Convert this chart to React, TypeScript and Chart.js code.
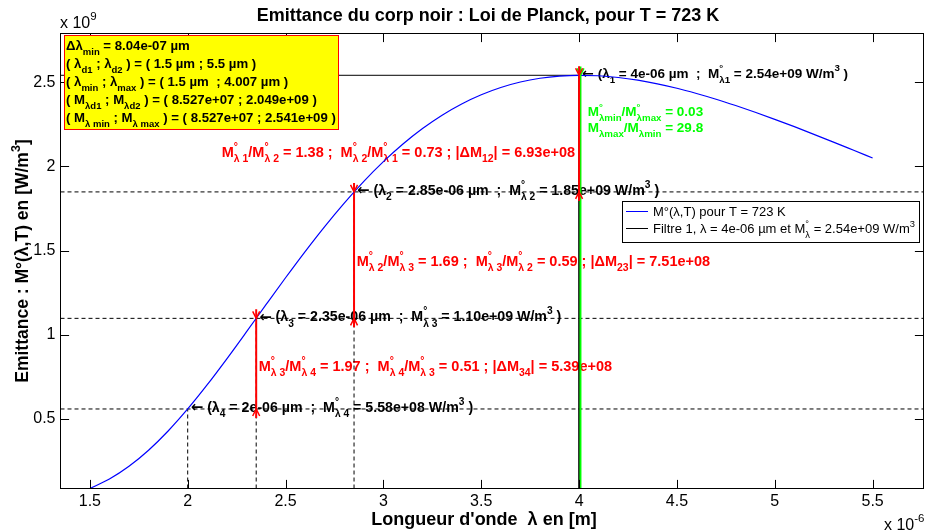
import React, { useEffect, useRef } from "react";
import { Chart, registerables } from "chart.js";

Chart.register(...registerables);

// ---------- data ----------
// wavelengths in µm (axis shows x 10^-6 m)
const wavelengths = [
  1.5, 1.6, 1.7, 1.8, 1.9, 2.0, 2.1, 2.2, 2.3, 2.4, 2.5, 2.6, 2.7, 2.8, 2.9, 3.0, 3.1, 3.2, 3.3, 3.4, 3.5,
  3.6, 3.7, 3.8, 3.9, 4.0, 4.1, 4.2, 4.3, 4.4, 4.5, 4.6, 4.7, 4.8, 4.9, 5.0, 5.1, 5.2, 5.3, 5.4, 5.5,
];
// spectral exitance in 1e9 W/m^3
const exitance = [
  0.0853, 0.1415, 0.2172, 0.3128, 0.4271, 0.558, 0.7022, 0.8562, 1.0159, 1.1778, 1.338, 1.4939, 1.6427,
  1.7823, 1.9113, 2.0284, 2.1332, 2.2252, 2.3046, 2.3713, 2.426, 2.4692, 2.5016, 2.524, 2.537, 2.5416,
  2.5387, 2.5286, 2.5124, 2.4908, 2.4645, 2.4333, 2.3993, 2.3617, 2.3219, 2.2798, 2.2361, 2.1907, 2.1444,
  2.0972, 2.0498,
];

const filterLambdas = [4.0, 2.85, 2.35, 2.0];
const filterExitance = [2.5416, 1.8483, 1.0967, 0.558];
const lambdaMax = 4.007;
const exitanceMax = 2.541;
const exitanceMin = 0.08527;

const xRange = [1.35, 5.76];
const yRange = [0.08527, 2.79];
const xTicks = [1.5, 2, 2.5, 3, 3.5, 4, 4.5, 5, 5.5];
const yTicks = [0.5, 1, 1.5, 2, 2.5];

// ---------- texts ----------
const titleText = "Emittance du corp noir : Loi de Planck, pour T = 723 K";
const xLabel = "Longueur d'onde  λ en [m]";
const yLabel = "Emittance : M°(λ,T) en [W/m^{3}]";
const xExponent = "x 10^{-6}";
const yExponent = "x 10^{9}";
const legendLabels = ["M°(λ,T) pour T = 723 K", "Filtre 1, λ = 4e-06 µm et M^{°}_{λ} = 2.54e+09 W/m^{3}"];
const infoLines = [
  "Δλ_{min} = 8.04e-07 µm",
  "( λ_{d1} ; λ_{d2} ) = ( 1.5 µm ; 5.5 µm )",
  "( λ_{min} ; λ_{max} ) = ( 1.5 µm  ; 4.007 µm )",
  "( M_{λd1} ; M_{λd2} ) = ( 8.527e+07 ; 2.049e+09 )",
  "( M_{λ min} ; M_{λ max} ) = ( 8.527e+07 ; 2.541e+09 )",
];
const filterLabels = [
  "← (λ_{1} = 4e-06 µm  ;  M^{°}_{λ1} = 2.54e+09 W/m^{3} )",
  "← (λ_{2} = 2.85e-06 µm  ;  M^{°}_{λ 2} = 1.85e+09 W/m^{3} )",
  "← (λ_{3} = 2.35e-06 µm  ;  M^{°}_{λ 3} = 1.10e+09 W/m^{3} )",
  "← (λ_{4} = 2e-06 µm  ;  M^{°}_{λ 4} = 5.58e+08 W/m^{3} )",
];
const ratioLabels = [
  "M^{°}_{λ 1}/M^{°}_{λ 2} = 1.38 ;  M^{°}_{λ 2}/M^{°}_{λ 1} = 0.73 ; |ΔM_{12}| = 6.93e+08",
  "M^{°}_{λ 2}/M^{°}_{λ 3} = 1.69 ;  M^{°}_{λ 3}/M^{°}_{λ 2} = 0.59 ; |ΔM_{23}| = 7.51e+08",
  "M^{°}_{λ 3}/M^{°}_{λ 4} = 1.97 ;  M^{°}_{λ 4}/M^{°}_{λ 3} = 0.51 ; |ΔM_{34}| = 5.39e+08",
];
const ratioAnchorX = [2.174, 2.864, 2.363];
const ratioAnchorY = [2.088, 1.44, 0.815];
const greenLabels = ["M^{°}_{λmin}/M^{°}_{λmax} = 0.03", "M_{λmax}/M_{λmin} = 29.8"];
const greenAnchorX = 4.044;
const greenAnchorY = [2.326, 2.231];

// ---------- rich text helpers ----------
const FAMILY = '"Liberation Sans", Arial, Helvetica, sans-serif';
const ARROW_FAMILY = '"DejaVu Sans", sans-serif';
const SUB = 0.72;
const GREEN = "#00ff00";
const RED = "#ff0000";
const FILTER_LABEL_SIZES = [13.5, 14.2, 14.2, 14.2];
type Seg = { t: string; k: number };
function fontStr(size: number, bold: boolean, family = FAMILY) {
  return `${bold ? "bold " : ""}${size}px ${family}`;
}
function parseRich(s: string): Seg[] {
  const out: Seg[] = [];
  let buf = "";
  let i = 0;
  const flush = () => {
    if (buf) {
      out.push({ t: buf, k: 0 });
      buf = "";
    }
  };
  while (i < s.length) {
    const c = s[i];
    if ((c === "_" || c === "^") && s[i + 1] === "{") {
      flush();
      const j = s.indexOf("}", i + 2);
      out.push({ t: s.slice(i + 2, j), k: c === "_" ? 1 : 2 });
      i = j + 1;
    } else if (c === "←") {
      flush();
      out.push({ t: c, k: 3 });
      i++;
    } else {
      buf += c;
      i++;
    }
  }
  flush();
  return out;
}
function segFont(k: number, size: number, bold: boolean) {
  if (k === 3) return fontStr(size * 1.05, bold, ARROW_FAMILY);
  return fontStr(k === 1 || k === 2 ? size * SUB : size, bold);
}
function layoutRich(ctx: CanvasRenderingContext2D, s: string, size: number, bold: boolean) {
  const segs = parseRich(s);
  const items: { t: string; k: number; x: number }[] = [];
  let w = 0;
  for (let i = 0; i < segs.length; i++) {
    const a = segs[i];
    const b = segs[i + 1];
    if ((a.k === 1 || a.k === 2) && b && (b.k === 1 || b.k === 2) && b.k !== a.k) {
      ctx.font = segFont(a.k, size, bold);
      const wa = ctx.measureText(a.t).width;
      const wb = ctx.measureText(b.t).width;
      items.push({ t: a.t, k: a.k, x: w });
      items.push({ t: b.t, k: b.k, x: w });
      w += Math.max(wa, wb);
      i++;
    } else {
      ctx.font = segFont(a.k, size, bold);
      items.push({ t: a.t, k: a.k, x: w });
      w += ctx.measureText(a.t).width;
    }
  }
  return { items, w };
}
function drawRich(
  ctx: CanvasRenderingContext2D,
  s: string,
  x: number,
  yc: number,
  size: number,
  bold: boolean,
  color: string,
  align: "left" | "center" | "right" = "left"
) {
  const { items, w } = layoutRich(ctx, s, size, bold);
  const x0 = align === "left" ? x : align === "center" ? x - w / 2 : x - w;
  const base = yc + 0.36 * size;
  ctx.save();
  ctx.fillStyle = color;
  ctx.textAlign = "left";
  ctx.textBaseline = "alphabetic";
  for (const it of items) {
    ctx.font = segFont(it.k, size, bold);
    const y = it.k === 1 ? base + 0.36 * size : it.k === 2 ? base - 0.5 * size : it.k === 3 ? base + 0.02 * size : base;
    ctx.fillText(it.t, x0 + it.x, y);
  }
  ctx.restore();
  return w;
}

function arrowHead(ctx: CanvasRenderingContext2D, px: number, py: number, dir: number, color: string) {
  // dir = 1 : pointing down (apex at py), dir = -1 : pointing up
  ctx.save();
  ctx.strokeStyle = color;
  ctx.lineWidth = 1.5;
  ctx.beginPath();
  ctx.moveTo(px - 3.5, py - dir * 7);
  ctx.lineTo(px, py);
  ctx.lineTo(px + 3.5, py - dir * 7);
  ctx.stroke();
  ctx.lineWidth = 2;
  ctx.beginPath();
  ctx.moveTo(px, py);
  ctx.lineTo(px, py - dir * 9);
  ctx.stroke();
  ctx.restore();
}

const overlay = {
  id: "overlay",
  beforeDatasetsDraw(chart: any) {
    const ctx: CanvasRenderingContext2D = chart.ctx;
    const xs = chart.scales.x;
    const ys = chart.scales.y;
    filterLabels.forEach((t, i) => {
      drawRich(
        ctx,
        t,
        xs.getPixelForValue(filterLambdas[i]) + 3,
        ys.getPixelForValue(filterExitance[i]) - 2,
        FILTER_LABEL_SIZES[i],
        true,
        "#000"
      );
    });
    ratioLabels.forEach((t, i) => {
      drawRich(ctx, t, xs.getPixelForValue(ratioAnchorX[i]), ys.getPixelForValue(ratioAnchorY[i]), 14.5, true, RED);
    });
    greenLabels.forEach((t, i) => {
      drawRich(ctx, t, xs.getPixelForValue(greenAnchorX), ys.getPixelForValue(greenAnchorY[i]), 13.5, true, GREEN);
    });
  },
  afterDatasetsDraw(chart: any) {
    const ctx: CanvasRenderingContext2D = chart.ctx;
    const xs = chart.scales.x;
    const ys = chart.scales.y;
    const a = chart.chartArea;
    ctx.save();
    ctx.beginPath();
    ctx.rect(a.left, a.top, a.right - a.left, a.bottom - a.top);
    ctx.clip();
    const gx = xs.getPixelForValue(lambdaMax);
    arrowHead(ctx, gx, ys.getPixelForValue(exitanceMax), 1, GREEN);
    arrowHead(ctx, gx, ys.getPixelForValue(exitanceMin), -1, GREEN);
    for (let i = 0; i < 3; i++) {
      const px = xs.getPixelForValue(filterLambdas[i]);
      arrowHead(ctx, px, ys.getPixelForValue(filterExitance[i]), 1, RED);
      arrowHead(ctx, px, ys.getPixelForValue(filterExitance[i + 1]), -1, RED);
    }
    ctx.restore();
    // box and inward ticks
    ctx.save();
    ctx.strokeStyle = "#000";
    ctx.lineWidth = 1;
    ctx.strokeRect(a.left, a.top, a.right - a.left, a.bottom - a.top);
    ctx.beginPath();
    const tl = 8.6;
    xTicks.forEach((v) => {
      const px = Math.round(xs.getPixelForValue(v)) + 0.5;
      ctx.moveTo(px, a.bottom);
      ctx.lineTo(px, a.bottom - tl);
      ctx.moveTo(px, a.top);
      ctx.lineTo(px, a.top + tl);
    });
    yTicks.forEach((v) => {
      const py = Math.round(ys.getPixelForValue(v)) + 0.5;
      ctx.moveTo(a.left, py);
      ctx.lineTo(a.left + tl, py);
      ctx.moveTo(a.right, py);
      ctx.lineTo(a.right - tl, py);
    });
    ctx.stroke();
    ctx.restore();
  },
  afterDraw(chart: any) {
    const ctx: CanvasRenderingContext2D = chart.ctx;
    const a = chart.chartArea;
    // info box
    ctx.save();
    ctx.fillStyle = "#ffff00";
    ctx.fillRect(64, 35, 275, 95);
    ctx.strokeStyle = RED;
    ctx.lineWidth = 1;
    ctx.strokeRect(64.5, 35.5, 274, 94);
    ctx.restore();
    infoLines.forEach((t, i) => drawRich(ctx, t, 66, 45 + i * 18.1, 13.2, true, "#000"));
    // legend
    ctx.save();
    ctx.fillStyle = "#fff";
    ctx.fillRect(622, 201, 298, 42);
    ctx.strokeStyle = "#000";
    ctx.lineWidth = 1;
    ctx.strokeRect(622.5, 201.5, 297, 41);
    const rowsY = [211.5, 228.5];
    chart.data.datasets.slice(0, 2).forEach((ds: any, i: number) => {
      ctx.strokeStyle = ds.borderColor;
      ctx.beginPath();
      ctx.moveTo(626, rowsY[i]);
      ctx.lineTo(648, rowsY[i]);
      ctx.stroke();
      drawRich(ctx, legendLabels[i], 653, rowsY[i], 13, false, "#000");
    });
    ctx.restore();
    // titles
    drawRich(ctx, titleText, 488, 15, 18, true, "#000", "center");
    drawRich(ctx, xLabel, 484, 519, 18, true, "#000", "center");
    drawRich(ctx, yExponent, 60, 22, 16, false, "#000");
    drawRich(ctx, xExponent, 884, 524, 16, false, "#000");
    ctx.save();
    ctx.translate(22, (a.top + a.bottom) / 2);
    ctx.rotate(-Math.PI / 2);
    drawRich(ctx, yLabel, 0, 0, 17.5, true, "#000", "center");
    ctx.restore();
  },
};

function seg(x1: number, y1: number, x2: number, y2: number) {
  return [
    { x: x1, y: y1 },
    { x: x2, y: y2 },
  ];
}

export default function App() {
  const ref = useRef<HTMLCanvasElement>(null);
  useEffect(() => {
    const canvas = ref.current!;
    const datasets: any[] = [];
    datasets.push({
      label: legendLabels[0],
      data: wavelengths.map((x, i) => ({ x, y: exitance[i] })),
      borderColor: "#0000ff",
      borderWidth: 1.2,
      pointRadius: 0,
      cubicInterpolationMode: "monotone",
      order: 1,
    });
    datasets.push({
      label: legendLabels[1],
      data: [
        { x: xRange[0], y: filterExitance[0] },
        { x: filterLambdas[0], y: filterExitance[0] },
        { x: filterLambdas[0], y: yRange[0] },
      ],
      borderColor: "#000000",
      borderWidth: 1,
      pointRadius: 0,
      order: 5,
    });
    // dashed horizontal guides
    [filterExitance[1], filterExitance[2], filterExitance[3], exitanceMin].forEach((v) => {
      datasets.push({
        data: seg(xRange[0], v, xRange[1], v),
        borderColor: "#000",
        borderWidth: 1,
        borderDash: [4, 3],
        pointRadius: 0,
        order: 6,
      });
    });
    // dashed vertical guides
    for (let i = 1; i < 4; i++) {
      datasets.push({
        data: seg(filterLambdas[i], yRange[0], filterLambdas[i], filterExitance[i]),
        borderColor: "#000",
        borderWidth: 1,
        borderDash: [4, 3],
        pointRadius: 0,
        order: 6,
      });
    }
    // green range line
    datasets.push({
      data: seg(lambdaMax, exitanceMin, lambdaMax, exitanceMax),
      borderColor: GREEN,
      borderWidth: 2,
      pointRadius: 0,
      order: 3,
    });
    // red difference lines
    for (let i = 0; i < 3; i++) {
      datasets.push({
        data: seg(filterLambdas[i], filterExitance[i + 1], filterLambdas[i], filterExitance[i]),
        borderColor: RED,
        borderWidth: 2,
        pointRadius: 0,
        order: 2,
      });
    }

    const chart = new Chart(canvas, {
      type: "line",
      data: { datasets },
      options: {
        animation: false,
        responsive: false,
        devicePixelRatio: 1,
        layout: { padding: { left: 0, top: 33.5, right: 4.5, bottom: 0 } },
        plugins: { legend: { display: false }, title: { display: false }, tooltip: { enabled: false } },
        scales: {
          x: {
            type: "linear",
            min: xRange[0],
            max: xRange[1],
            grid: { display: false, drawTicks: false },
            border: { display: false },
            afterBuildTicks: (s: any) => {
              s.ticks = xTicks.map((v) => ({ value: v }));
            },
            afterFit: (s: any) => {
              s.height = 42.5;
            },
            ticks: {
              autoSkip: false,
              maxRotation: 0,
              padding: 3,
              color: "#000",
              font: { family: FAMILY, size: 16 },
              callback: (v: any) => String(v),
            },
          },
          y: {
            type: "linear",
            min: yRange[0],
            max: yRange[1],
            grid: { display: false, drawTicks: false },
            border: { display: false },
            afterBuildTicks: (s: any) => {
              s.ticks = yTicks.map((v) => ({ value: v }));
            },
            afterFit: (s: any) => {
              s.width = 60.5;
            },
            ticks: {
              autoSkip: false,
              padding: 5,
              color: "#000",
              font: { family: FAMILY, size: 16 },
              callback: (v: any) => String(v),
            },
          },
        },
      },
      plugins: [overlay],
    } as any);
    return () => chart.destroy();
  }, []);
  return (
    <div style={{ position: "absolute", left: 0, top: 0, width: 928, height: 531, background: "#fff" }}>
      <canvas ref={ref} width={928} height={531} style={{ display: "block", width: 928, height: 531 }} />
    </div>
  );
}
